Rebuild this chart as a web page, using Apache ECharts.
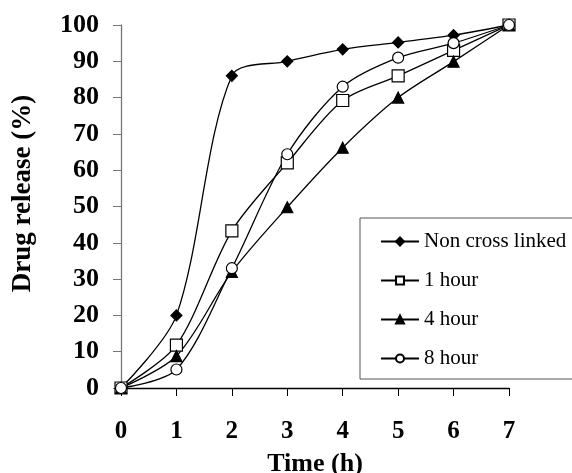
<!DOCTYPE html>
<html>
<head>
<meta charset="utf-8">
<script src="https://cdn.jsdelivr.net/npm/echarts@6/dist/echarts.min.js"></script>
<style>
  html, body { margin: 0; padding: 0; background: #fff; }
  #chart { width: 572px; height: 473px; }
</style>
</head>
<body>
<div id="chart"></div>
<script>
// release data
var times = [0, 1, 2, 3, 4, 5, 6, 7];
var nonCrossLinked = [0, 20, 86, 90, 93.3, 95.2, 97.2, 100];
var oneHour = [0, 11.8, 43.3, 62, 79.2, 86, 93, 100];
var fourHour = [0, 8.8, 32, 49.8, 66.2, 80, 89.9, 100];
var eightHour = [0, 5.1, 33, 64.4, 83, 91, 95, 100];

var serifFont = "'Liberation Serif', 'Times New Roman', serif";

function pairs(ys) {
  return times.map(function (t, i) { return [t, ys[i]]; });
}

function makeSeries(name, ys, symbol, size, fill) {
  return {
    name: name,
    type: 'line',
    smooth: 0.3,
    data: pairs(ys),
    symbol: symbol,
    symbolSize: size,
    lineStyle: { color: '#000', width: 1.3 },
    itemStyle: { color: fill, borderColor: '#000', borderWidth: 1.2 }
  };
}

var chart = echarts.init(document.getElementById('chart'));
chart.setOption({
  animation: false,
  textStyle: { fontFamily: serifFont },
  grid: { left: 121, right: 63, top: 25, bottom: 85, outerBoundsMode: 'none', containLabel: false },
  xAxis: {
    type: 'value',
    min: 0,
    max: 7,
    interval: 1,
    name: 'Time (h)',
    nameLocation: 'middle',
    nameGap: 63,
    nameTextStyle: { fontFamily: serifFont, fontWeight: 'bold', fontSize: 26, color: '#000' },
    axisLine: { lineStyle: { color: '#000', width: 1.3 } },
    axisTick: { inside: false, length: 8, lineStyle: { color: '#000' } },
    axisLabel: { margin: 31, fontFamily: serifFont, fontWeight: 'bold', fontSize: 25, color: '#000' },
    splitLine: { show: false }
  },
  yAxis: {
    type: 'value',
    min: 0,
    max: 100,
    interval: 10,
    name: 'Drug release (%)',
    nameLocation: 'middle',
    nameGap: 84,
    nameTextStyle: { fontFamily: serifFont, fontWeight: 'bold', fontSize: 27, color: '#000', padding: [0, 0, 0, 26] },
    axisLine: { show: true, lineStyle: { color: '#777', width: 1.3 } },
    axisTick: { show: true, length: 8, lineStyle: { color: '#777' } },
    axisLabel: { margin: 22, fontFamily: serifFont, fontWeight: 'bold', fontSize: 26, color: '#000' },
    splitLine: { show: false }
  },
  legend: {
    orient: 'vertical',
    left: 360,
    top: 218,
    padding: [13, 20, 10, 20],
    itemGap: 18,
    itemWidth: 38,
    itemHeight: 10,
    borderColor: '#555',
    borderWidth: 1,
    backgroundColor: '#fff',
    textStyle: { fontFamily: serifFont, fontSize: 21, color: '#000' },
    data: ['Non cross linked', '1 hour', '4 hour', '8 hour']
  },
  series: [
    makeSeries('Non cross linked', nonCrossLinked, 'diamond', 11, '#000'),
    makeSeries('1 hour', oneHour, 'rect', 12, '#fff'),
    makeSeries('4 hour', fourHour, 'triangle', 11, '#000'),
    makeSeries('8 hour', eightHour, 'circle', 11, '#fff')
  ]
});
</script>
</body>
</html>
